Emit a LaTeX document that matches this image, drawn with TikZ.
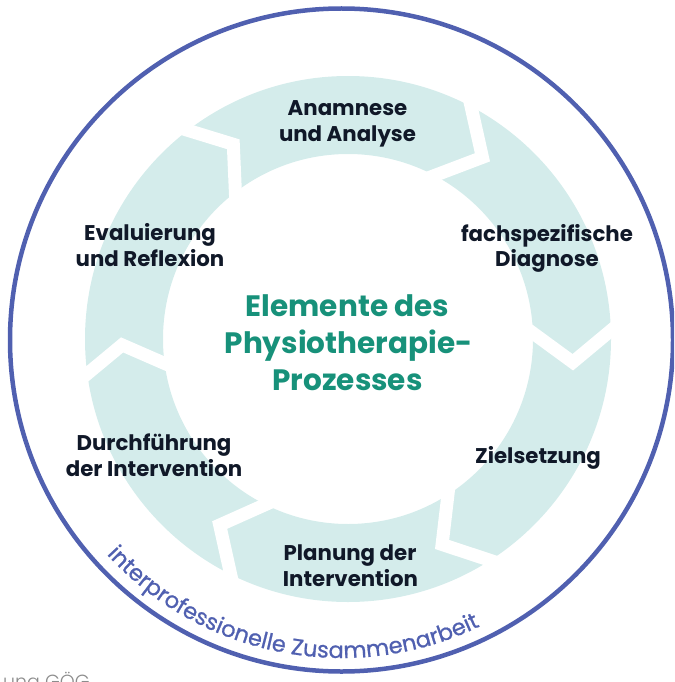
\documentclass[tikz,border=0pt]{standalone}
\usepackage{fontspec}
\setmainfont{Poppins}
\newfontfamily\midfont{Poppins}[FakeBold=0.8]
\newfontfamily\lightfont{Poppins Light}
\newcommand\lblfont{\bfseries}
\usetikzlibrary{calc,decorations.text}
\definecolor{ringc}{HTML}{D4ECEB}
\definecolor{titlec}{HTML}{17917A}
\definecolor{bluec}{HTML}{5060B0}
\definecolor{txtc}{HTML}{101828}
\definecolor{grayc}{HTML}{8C8C8C}
\begin{document}
\begin{tikzpicture}[x=1pt,y=1pt,
  lbl/.style={font=\lblfont\fontsize{21.3}{24}\selectfont, text=txtc, anchor=base, inner sep=0pt},
  ttl/.style={font=\lblfont\fontsize{29.5}{32}\selectfont, text=titlec, anchor=base, inner sep=0pt},
  gapline/.style={white, line width=13pt, line join=miter, miter limit=10}]
\useasboundingbox (0,0) rectangle (674,-682);
\clip (0,0) rectangle (674,-682);
\coordinate (C) at (348,-339);
\coordinate (B) at (341.5,-340);
% ring
\fill[ringc, even odd rule] (C) circle (263) (C) circle (185);
% gaps between the arrow segments
\foreach \b/\v in {62.1/53.5, 1.85/-5.9, 302.7/294.6, 243.5/235.4, 187.6/181.5, 127.5/120.5} {
  \coordinate (go) at ($(C)+(\b:263)$);
  \coordinate (gm) at ($(C)+(\v:226)$);
  \coordinate (gi) at ($(C)+(\b:185)$);
  \draw[gapline] ($(gm)!1.3!(go)$) -- (gm) -- ($(gm)!1.3!(gi)$);
}
% outer circle
\draw[bluec, line width=4.5pt] (B) circle (331.5);
% curved text
\path[decorate, decoration={text along path, text color=bluec,
  text={|\midfont\fontsize{22.5}{24}\selectfont|interprofessionelle Zusammenarbeit}, text align=left}]
  ($(B)+(222.4:318)$) arc[start angle=222.4, end angle=310, radius=318];
% labels
\node[lbl] (a1) at (347.5,-115.7) {Anamnese};
\node[lbl] (a2) at (347.5,-141) {und Analyse};
\node[lbl] (f1) at (547,-241.7) {fachspezifische};
\node[lbl] (f2) at (547,-266) {Diagnose};
\node[lbl] (z1) at (538,-463.3) {Zielsetzung};
\node[lbl] (p1) at (350,-560.7) {Planung der};
\node[lbl] (p2) at (350.5,-586.7) {Intervention};
\node[lbl] (d1) at (154,-450.7) {Durchführung};
\node[lbl] (d2) at (154,-476.7) {der Intervention};
\node[lbl] (e1) at (150,-240) {Evaluierung};
\node[lbl] (e2) at (150,-266) {und Reflexion};
% title
\node[ttl] (t1) at (347.5,-316.7) {Elemente des};
\node[ttl] (t2) at (348.5,-353) {Physiotherapie-};
\node[ttl] (t3) at (347.5,-390) {Prozesses};
% footer
\node[anchor=base east, inner sep=0pt, font=\lightfont\fontsize{19}{20}\selectfont, text=grayc] (foot) at (90,-688) {ung GÖG};
\end{tikzpicture}
\end{document}
